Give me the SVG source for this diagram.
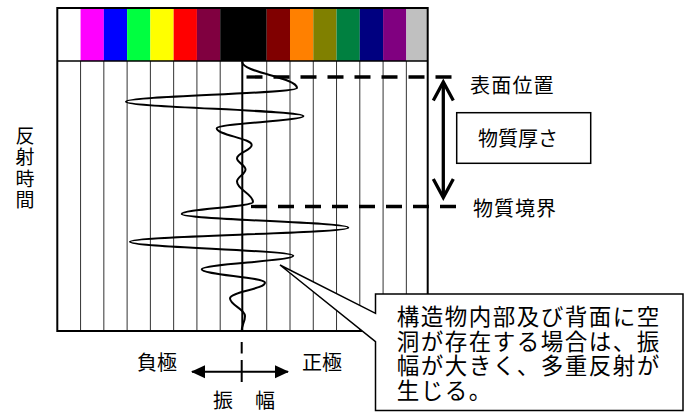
<svg xmlns="http://www.w3.org/2000/svg" width="692" height="412" viewBox="0 0 692 412">
<style>
.t{font-family:"Noto Sans CJK JP","Noto Sans CJK SC",sans-serif;fill:#000}
.lbl{font-size:20px}
.vt{font-size:19px;text-anchor:middle}
.call{font-size:22.5px;letter-spacing:1.5px}
.grid{stroke:#333;stroke-width:1;fill:none}
.dash{stroke:#000;stroke-width:3.3;stroke-dasharray:16 11;fill:none}
</style>
<defs>
<marker id="tri" viewBox="0 0 14 14" refX="13" refY="7" markerWidth="14" markerHeight="14" markerUnits="userSpaceOnUse" orient="auto-start-reverse">
<path d="M0,0.5 L14,7 L0,13.5 Z" fill="#000"/>
</marker>
</defs>
<rect width="692" height="412" fill="#fff"/>
<g id="colorbar">
<rect x="57.3" y="8" width="23.27" height="53" fill="#FFFFFF"/>
<rect x="80.57" y="8" width="23.27" height="53" fill="#FF00FF"/>
<rect x="103.84" y="8" width="23.27" height="53" fill="#0000FF"/>
<rect x="127.11" y="8" width="23.27" height="53" fill="#00FF40"/>
<rect x="150.38" y="8" width="23.27" height="53" fill="#FFFF00"/>
<rect x="173.65" y="8" width="23.27" height="53" fill="#FF0000"/>
<rect x="196.92" y="8" width="23.27" height="53" fill="#800040"/>
<rect x="220.19" y="8" width="46.54" height="53" fill="#000000"/>
<rect x="266.73" y="8" width="23.27" height="53" fill="#800000"/>
<rect x="290" y="8" width="23.27" height="53" fill="#FF8000"/>
<rect x="313.27" y="8" width="23.27" height="53" fill="#808000"/>
<rect x="336.54" y="8" width="23.27" height="53" fill="#008040"/>
<rect x="359.81" y="8" width="23.27" height="53" fill="#000080"/>
<rect x="383.08" y="8" width="23.27" height="53" fill="#800080"/>
<rect x="406.35" y="8" width="21.35" height="53" fill="#C0C0C0"/>
</g>
<g id="grid">
<path class="grid" d="M80.57,61V331 M103.84,61V331 M127.11,61V331 M150.38,61V331 M173.65,61V331 M196.92,61V331 M220.19,61V331 M266.73,61V331 M290,61V331 M313.27,61V331 M336.54,61V331 M359.81,61V331 M383.08,61V331 M406.35,61V331"/>
<line x1="57.3" y1="61" x2="427.7" y2="61" stroke="#000" stroke-width="1.5"/>
<rect x="57.3" y="8" width="370.4" height="323" fill="none" stroke="#000" stroke-width="2"/>
<line x1="242.3" y1="61" x2="242.3" y2="331" stroke="#000" stroke-width="2"/>
</g>
<g id="wave">
<path fill="none" stroke="#000" stroke-width="2" d="M242.3,62 C242.3,72.4 297,77.6 297,88 C297,93.5 126,96.2 126,101.7 C126,107.4 303.5,110.3 303.5,116 C303.5,120.9 216.7,123.4 216.7,128.3 C216.7,135 251.7,138.3 251.7,145 C251.7,150.3 237,153 237,158.3 C237,162.8 245.5,165 245.5,169.5 C245.5,174.3 237,176.7 237,181.5 C237,189.7 253,193.8 253,202 C253,206.8 181.7,209.2 181.7,214 C181.7,219.5 348.3,222.2 348.3,227.7 C348.3,233.3 130,236.1 130,241.7 C130,247.3 293.3,250.1 293.3,255.7 C293.3,261.1 201.7,263.9 201.7,269.3 C201.7,274.7 265,277.3 265,282.7 C265,288.9 230,292.1 230,298.3 C230,305.4 245,308.9 245,316 C245,322 241.7,325 241.7,331"/>
</g>
<g id="connectors">
<line class="dash" x1="246.5" y1="77" x2="455" y2="77"/>
<line class="dash" x1="251" y1="206.5" x2="456" y2="206.5"/>
<line x1="443.3" y1="83" x2="443.3" y2="197" stroke="#000" stroke-width="3.3"/>
<polyline points="433.3,100.5 443.3,82 453.3,100.5" fill="none" stroke="#000" stroke-width="3.3"/>
<polyline points="433.3,179 443.3,197.5 453.3,179" fill="none" stroke="#000" stroke-width="3.3"/>
<line x1="192" y1="371.7" x2="288" y2="371.7" stroke="#000" stroke-width="2" marker-start="url(#tri)" marker-end="url(#tri)"/>
<path d="M241.7,342V353.5 M241.7,360V382" stroke="#000" stroke-width="2"/>
</g>
<g id="label-surface"><text class="t lbl" x="470" y="93" letter-spacing="1.2">表面位置</text></g>
<g id="label-thickness">
<rect x="456.7" y="112.7" width="134" height="50.6" fill="#fff" stroke="#000" stroke-width="1.5"/>
<text class="t lbl" x="478" y="146">物質厚さ</text>
</g>
<g id="label-boundary"><text class="t lbl" x="473" y="216" letter-spacing="1">物質境界</text></g>
<g id="label-time">
<text class="t vt" x="25" y="142.5">反</text>
<text class="t vt" x="25" y="164">射</text>
<text class="t vt" x="25" y="185.5">時</text>
<text class="t vt" x="25" y="207">間</text>
</g>
<g id="label-neg"><text class="t lbl" x="137" y="369.6">負極</text></g>
<g id="label-pos"><text class="t lbl" x="302" y="369.6">正極</text></g>
<g id="label-amp"><text class="t lbl" x="213" y="408">振</text><text class="t lbl" x="255" y="408">幅</text></g>
<g id="callout">
<path d="M375.5,294 H683 V410.5 H375.5 V341.7 L280,265 L375.5,313.3 Z" fill="#fff" stroke="#000" stroke-width="1.5" stroke-linejoin="miter"/>
<text class="t call" x="396.7" y="325">構造物内部及び背面に空</text>
<text class="t call" x="396.7" y="349.5">洞が存在する場合は、振</text>
<text class="t call" x="396.7" y="374">幅が大きく、多重反射が</text>
<text class="t call" x="396.7" y="398.5">生じる。</text>
</g>
</svg>
